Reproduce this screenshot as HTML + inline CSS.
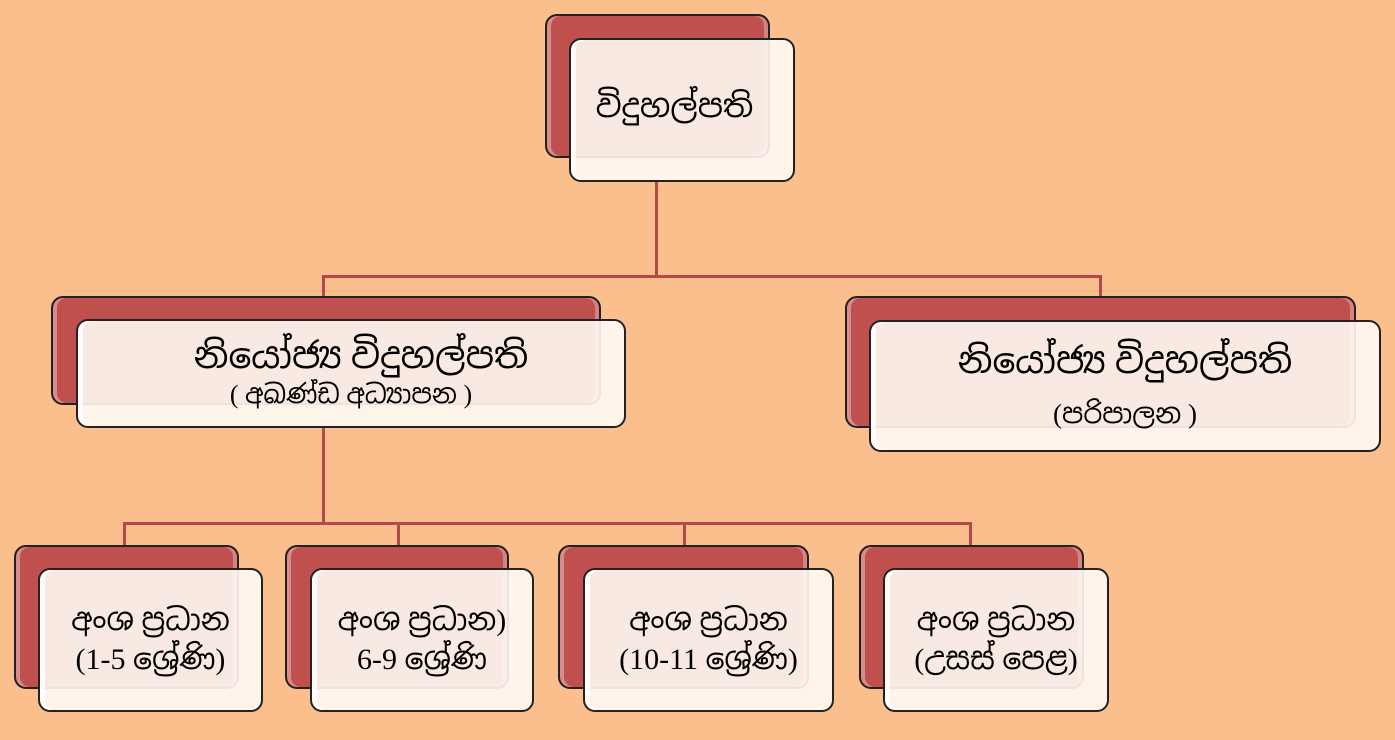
<!DOCTYPE html>
<html><head><meta charset="utf-8"><style>
body{margin:0;width:1395px;height:740px;background:#fbbf8e;position:relative;overflow:hidden;font-family:"Liberation Serif","Iskoola Pota","Noto Sans Sinhala",serif;}
.r{position:absolute;background:#c0504d;border:2px solid #222;border-radius:12px;box-sizing:border-box;box-shadow:inset 4px 0 0 rgba(255,255,255,.35),inset -4px 0 0 rgba(255,255,255,.3);}
.w{position:absolute;background:rgba(255,250,244,.9);border:2px solid #222;border-radius:12px;box-sizing:border-box;display:flex;flex-direction:column;align-items:center;justify-content:center;text-align:center;color:#000;box-shadow:inset 5px 0 0 rgba(255,255,255,.8);}
.l{position:absolute;background:#b5494a;}
.t1{font-size:36px;line-height:1.15}
.t3{font-size:30px;line-height:1.3}
.t2{font-size:26px}
</style></head><body>
<div class="l" style="left:655px;top:180px;width:3px;height:98px"></div>
<div class="l" style="left:322px;top:275px;width:780px;height:3px"></div>
<div class="l" style="left:322px;top:275px;width:3px;height:22px"></div>
<div class="l" style="left:1099px;top:275px;width:3px;height:22px"></div>
<div class="l" style="left:322px;top:426px;width:3px;height:98px"></div>
<div class="l" style="left:123px;top:522px;width:849px;height:3px"></div>
<div class="l" style="left:123px;top:522px;width:3px;height:24px"></div>
<div class="l" style="left:397px;top:522px;width:3px;height:24px"></div>
<div class="l" style="left:683px;top:522px;width:3px;height:24px"></div>
<div class="l" style="left:969px;top:522px;width:3px;height:24px"></div>

<div class="r" style="left:545px;top:14px;width:225px;height:144px"></div>
<div class="w" style="left:569px;top:38px;width:226px;height:144px"><div class="t1" style="font-size:32px;margin-left:-15px;margin-top:-8px">විදුහල්පති</div></div>

<div class="r" style="left:51px;top:296px;width:550px;height:109px"></div>
<div class="w" style="left:76px;top:319px;width:550px;height:109px"><div class="t1" style="margin-left:20px">නියෝජ්‍ය විදුහල්පති</div><div class="t2">( අඛණ්ඩ අධ්‍යාපන )</div></div>

<div class="r" style="left:845px;top:296px;width:511px;height:132px"></div>
<div class="w" style="left:869px;top:320px;width:512px;height:132px"><div class="t1" style="margin-bottom:14px">නියෝජ්‍ය විදුහල්පති</div><div class="t2" style="font-size:27px">(පරිපාලන )</div></div>

<div class="r" style="left:14px;top:545px;width:225px;height:144px"></div>
<div class="w" style="left:38px;top:568px;width:225px;height:144px"><div class="t3">අංශ ප්‍රධාන<br>(1-5 ශ්‍රේණි)</div></div>

<div class="r" style="left:285px;top:545px;width:224px;height:144px"></div>
<div class="w" style="left:310px;top:568px;width:224px;height:144px"><div class="t3">අංශ ප්‍රධාන)<br>6-9 ශ්‍රේණි</div></div>

<div class="r" style="left:558px;top:545px;width:251px;height:144px"></div>
<div class="w" style="left:583px;top:568px;width:251px;height:144px"><div class="t3">අංශ ප්‍රධාන<br>(10-11 ශ්‍රේණි)</div></div>

<div class="r" style="left:859px;top:545px;width:225px;height:144px"></div>
<div class="w" style="left:883px;top:568px;width:226px;height:144px"><div class="t3">අංශ ප්‍රධාන<br>(උසස් පෙළ)</div></div>
</body></html>
